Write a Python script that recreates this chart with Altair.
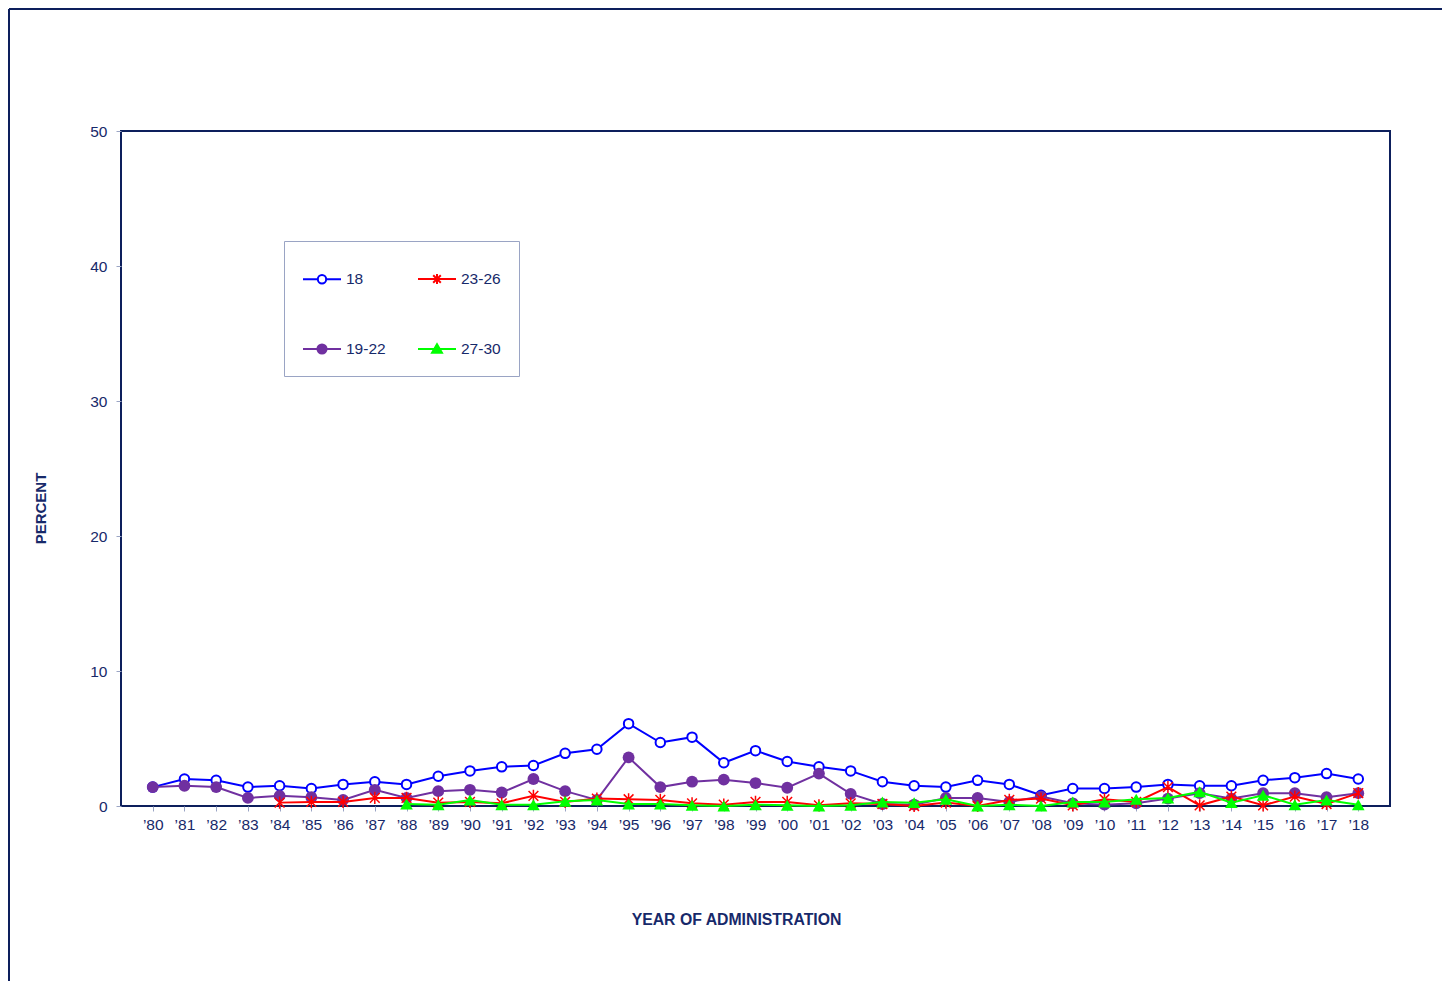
import altair as alt
import pandas as pd

years = ["\u201980", "\u201981", "\u201982", "\u201983", "\u201984", "\u201985", "\u201986", "\u201987", "\u201988", "\u201989",
         "\u201990", "\u201991", "\u201992", "\u201993", "\u201994", "\u201995", "\u201996", "\u201997", "\u201998", "\u201999",
         "\u201900", "\u201901", "\u201902", "\u201903", "\u201904", "\u201905", "\u201906", "\u201907", "\u201908", "\u201909",
         "\u201910", "\u201911", "\u201912", "\u201913", "\u201914", "\u201915", "\u201916", "\u201917", "\u201918"]

s18 = [1.4, 2.0, 1.9, 1.4, 1.5, 1.3, 1.6, 1.8, 1.6, 2.2,
       2.6, 2.9, 3.0, 3.9, 4.2, 6.1, 4.7, 5.1, 3.2, 4.1,
       3.3, 2.9, 2.6, 1.8, 1.5, 1.4, 1.9, 1.6, 0.8, 1.3,
       1.3, 1.4, 1.6, 1.5, 1.5, 1.9, 2.1, 2.4, 2.0]
s19_22 = [1.4, 1.5, 1.4, 0.6, 0.75, 0.65, 0.45, 1.2, 0.6, 1.1,
          1.2, 1.0, 2.0, 1.1, 0.45, 3.6, 1.4, 1.8, 1.95, 1.7,
          1.35, 2.4, 0.9, 0.15, 0.1, 0.6, 0.6, 0.3, 0.7, 0.2,
          0.1, 0.2, 0.55, 0.95, 0.55, 0.95, 0.95, 0.65, 0.95]
s23_26 = [None, None, None, None, 0.25, 0.3, 0.3, 0.6, 0.6, 0.25,
          0.3, 0.2, 0.75, 0.3, 0.55, 0.5, 0.45, 0.2, 0.1, 0.3,
          0.3, 0.05, 0.2, 0.15, 0.0, 0.25, 0.0, 0.45, 0.55, 0.05,
          0.5, 0.3, 1.4, 0.05, 0.7, 0.05, 0.7, 0.15, 0.95]
s27_30 = [None, None, None, None, None, None, None, None, 0.15, 0.1,
          0.45, 0.1, 0.1, 0.35, 0.45, 0.15, 0.15, 0.05, 0.0, 0.1,
          0.05, 0.0, 0.05, 0.3, 0.25, 0.5, 0.0, 0.1, 0.0, 0.3,
          0.3, 0.5, 0.6, 1.05, 0.25, 0.8, 0.1, 0.45, 0.1]

series_names = ["18", "19-22", "23-26", "27-30"]
series_values = [s18, s19_22, s23_26, s27_30]
legend_order = ["18", "23-26", "19-22", "27-30"]
legend_colors = ["#0000FF", "#FF0000", "#7030A0", "#00FF00"]
y_ticks = [0, 10, 20, 30, 40, 50]

NAVY = "#0d1f5c"
TEXT = "#17296a"
FONT = "Arial"

rows = []
for name, vals in zip(series_names, series_values):
    for yr, v in zip(years, vals):
        if v is not None:
            rows.append({"year": yr, "series": name, "value": v})
df = pd.DataFrame(rows)

ASTER = "M-1,-1L1,1M-1,1L1,-1M0,-1.25L0,1.25"

# open circle: same circle drawn both directions so its fill cancels out
L18 = ("M-1,0L-0.22,0M0.22,0L1,0"
       "M0.22,0A0.22,0.22,0,1,1,-0.22,0A0.22,0.22,0,1,1,0.22,0Z"
       "M0.22,0A0.22,0.22,0,1,0,-0.22,0A0.22,0.22,0,1,0,0.22,0Z")
L19 = "M-1,0L1,0M0.24,0A0.24,0.24,0,1,1,-0.24,0A0.24,0.24,0,1,1,0.24,0Z"
L23 = "M-1,0L1,0M-0.2,-0.2L0.2,0.2M-0.2,0.2L0.2,-0.2M0,-0.26L0,0.26"
L27 = "M-1,0L1,0M0,-0.25L0.26,0.2L-0.26,0.2Z"

shape_sig = ("datum.value == '18' ? '%s' : datum.value == '19-22' ? '%s' : "
             "datum.value == '23-26' ? '%s' : '%s'") % (L18, L19, L23, L27)
fill_sig = ("datum.value == '18' ? 'white' : datum.value == '19-22' ? '#7030A0' : "
            "datum.value == '27-30' ? '#00FF00' : 'transparent'")
stroke_sig = ("datum.value == '18' ? '#0000FF' : datum.value == '19-22' ? '#7030A0' : "
              "datum.value == '23-26' ? '#FF0000' : '#00FF00'")

legend = alt.Legend(
    title=None, orient="none", legendX=163, legendY=110,
    columns=2, direction="horizontal",
    symbolSize=1444, symbolStrokeWidth=2,
    symbolType=alt.ExprRef(expr=shape_sig),
    symbolFillColor=alt.ExprRef(expr=fill_sig),
    symbolStrokeColor=alt.ExprRef(expr=stroke_sig),
    symbolOpacity=1,
    labelFont=FONT, labelFontSize=15.5, labelColor=TEXT, labelOffset=4,
    padding=18, columnPadding=28, rowPadding=41,
    strokeColor="#9aa4c4", fillColor="white",
)

color_enc = alt.Color("series:N", scale=alt.Scale(domain=legend_order, range=legend_colors), legend=legend)

x_enc = alt.X(
    "year:N",
    scale=alt.Scale(type="point", domain=years, padding=1),
    axis=alt.Axis(
        title="YEAR OF ADMINISTRATION", titleFont=FONT, titleFontSize=15.8, titleFontWeight="bold",
        titleColor=TEXT, titleX=615, titleY=113, titleBaseline="middle", titleAlign="center",
        labelFont=FONT, labelFontSize=15.5, labelColor=TEXT, labelAngle=0, labelPadding=6,
        tickColor="#9aa4c4", tickSize=5, domain=False, grid=False,
    ),
)
y_enc = alt.Y(
    "value:Q",
    scale=alt.Scale(domain=[0, 50], nice=False, zero=True),
    axis=alt.Axis(
        title="PERCENT", titleFont=FONT, titleFontSize=15, titleFontWeight="bold",
        titleColor=TEXT, titleX=-81, titleY=377, titleAngle=270, titleAlign="center",
        titleBaseline="middle",
        values=y_ticks, labelFont=FONT, labelFontSize=15.5, labelColor=TEXT, labelPadding=9,
        tickColor="#9aa4c4", tickSize=5, domain=False, grid=False,
    ),
)

point_styles = {
    "18": dict(mark=dict(filled=False, size=90, strokeWidth=2, opacity=1), fill="white", shape="circle"),
    "19-22": dict(mark=dict(filled=True, size=140, opacity=1), fill=None, shape="circle"),
    "23-26": dict(mark=dict(filled=False, size=95, strokeWidth=1.5, opacity=1), fill="transparent", shape=ASTER),
    "27-30": dict(mark=dict(filled=True, size=160, opacity=1), fill=None, shape="triangle-up"),
}

layers = []
for name in series_names:
    base = alt.Chart(df).transform_filter(alt.datum.series == name)
    line = base.mark_line(strokeWidth=2).encode(x=x_enc, y=y_enc, color=color_enc)
    st = point_styles[name]
    enc = dict(x=x_enc, y=y_enc, color=color_enc, shape=alt.value(st["shape"]))
    if st["fill"] is not None:
        enc["fill"] = alt.value(st["fill"])
    pts = base.mark_point(**st["mark"]).encode(**enc)
    layers += [line, pts]

frame_df = pd.DataFrame({"k": [0]})
frame_top = alt.Chart(frame_df).mark_rule(color=NAVY, strokeWidth=2).encode(
    x=alt.value(-112), x2=alt.value(1330), y=alt.value(-122))
frame_left = alt.Chart(frame_df).mark_rule(color=NAVY, strokeWidth=2).encode(
    x=alt.value(-112), y=alt.value(-122), y2=alt.value(860))

chart = alt.layer(frame_top, frame_left, *layers).properties(
    width=1269, height=675,
    autosize=alt.AutoSizeParams(type="none"),
    padding={"left": 113, "top": 123, "right": 52, "bottom": 175},
    background="white",
).configure_view(stroke=NAVY, strokeWidth=2)

chart.save("out.html", embed_options={"renderer": "svg", "actions": False})
